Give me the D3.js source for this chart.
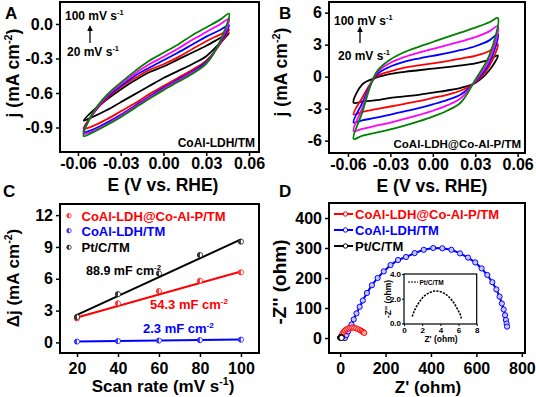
<!DOCTYPE html>
<html>
<head>
<meta charset="utf-8">
<script src="https://cdnjs.cloudflare.com/ajax/libs/d3/7.8.5/d3.min.js"></script>
<style>
  body { margin: 0; background: #fff; }
  svg text { font-family: "Liberation Sans", Arial, sans-serif; font-weight: bold; }
</style>
</head>
<body>
<div id="chart"></div>
<script>
// ---- data ----
// potential grid shared by the CV loops (V vs. RHE)
var potential = [-0.056, -0.05, -0.04, -0.03, -0.02, -0.01, 0, 0.01, 0.02, 0.03, 0.04, 0.046];
var scanRates = [20, 40, 60, 80, 100];

// A: CoAl-LDH/TM, rows = 20,40,60,80,100 mV/s
var ldhAnodic = [
  [-0.84, -0.76, -0.66, -0.57, -0.49, -0.42, -0.37, -0.31, -0.25, -0.19, -0.12, -0.08],
  [-0.91, -0.79, -0.65, -0.55, -0.47, -0.40, -0.35, -0.29, -0.22, -0.15, -0.09, -0.05],
  [-0.94, -0.79, -0.64, -0.54, -0.45, -0.38, -0.315, -0.25, -0.18, -0.11, -0.05, -0.01],
  [-0.955, -0.79, -0.63, -0.525, -0.43, -0.35, -0.285, -0.215, -0.14, -0.07, 0.0, 0.045],
  [-0.975, -0.78, -0.62, -0.51, -0.41, -0.32, -0.25, -0.18, -0.10, -0.03, 0.04, 0.09]
];
var ldhCathodic = [
  [-0.84, -0.81, -0.75, -0.68, -0.61, -0.54, -0.47, -0.41, -0.35, -0.28, -0.16, -0.08],
  [-0.91, -0.89, -0.83, -0.76, -0.69, -0.61, -0.54, -0.47, -0.40, -0.32, -0.17, -0.05],
  [-0.94, -0.92, -0.86, -0.79, -0.71, -0.63, -0.555, -0.485, -0.415, -0.33, -0.16, -0.01],
  [-0.955, -0.935, -0.875, -0.80, -0.72, -0.64, -0.565, -0.495, -0.425, -0.34, -0.15, 0.045],
  [-0.975, -0.945, -0.88, -0.81, -0.73, -0.65, -0.575, -0.505, -0.435, -0.345, -0.14, 0.09]
];

// B: CoAl-LDH@Co-Al-P/TM
var phosAnodic = [
  [-2.45, -0.75, -0.1, 0.25, 0.45, 0.6, 0.75, 0.9, 1.05, 1.25, 1.6, 2.0],
  [-3.55, -2.0, 0.0, 0.5, 0.85, 1.05, 1.25, 1.45, 1.7, 1.95, 2.4, 3.05],
  [-4.3, -2.5, 0.15, 0.95, 1.4, 1.7, 1.95, 2.2, 2.5, 2.85, 3.4, 4.0],
  [-5.1, -3.0, 0.3, 1.3, 1.85, 2.25, 2.6, 2.95, 3.3, 3.7, 4.25, 4.75],
  [-5.84, -3.4, 0.4, 1.6, 2.3, 2.8, 3.25, 3.7, 4.15, 4.6, 5.1, 5.5]
];
var phosCathodic = [
  [-2.45, -2.35, -2.2, -2.0, -1.85, -1.7, -1.5, -1.3, -1.05, -0.6, 0.6, 2.0],
  [-3.55, -3.3, -3.05, -2.8, -2.55, -2.3, -2.0, -1.7, -1.3, -0.55, 1.0, 3.05],
  [-4.3, -4.1, -3.85, -3.55, -3.25, -2.95, -2.6, -2.2, -1.65, -0.5, 1.3, 4.0],
  [-5.1, -4.9, -4.6, -4.3, -3.95, -3.6, -3.2, -2.7, -2.0, -0.4, 1.6, 4.75],
  [-5.84, -5.55, -5.25, -4.95, -4.6, -4.2, -3.75, -3.2, -2.4, -0.3, 2.0, 5.5]
];

// C: delta j vs scan rate
var seriesNames = ["CoAl-LDH@Co-Al-P/TM", "CoAl-LDH/TM", "Pt/C/TM"];
var deltaJPhos = [2.26, 3.68, 4.84, 5.81, 6.6];
var deltaJLdh = [0.08, 0.12, 0.17, 0.21, 0.26];
var deltaJPt = [2.4, 4.55, 6.5, 8.24, 9.5];
var cdlSlope = [0.0543, 0.0023, 0.0889];
var cdlIntercept = [1.26, 0.034, 0.82];
var cdlLabels = ["54.3", "2.3", "88.9"];

// D: Nyquist
var zRePhos = [3, 6, 10, 15, 21, 28, 36, 44, 53, 62, 71, 80, 88, 95, 101, 106];
var zImPhos = [1, 7, 14, 20, 25, 29, 32, 34, 35, 34, 32, 29, 26, 23, 20, 17];
var zReLdh = [21, 28, 35, 42, 50, 60, 72, 86, 100, 118, 140, 165, 192, 222, 255, 290, 328, 368, 410, 450, 490, 528, 563, 595, 623, 648, 670, 688, 702, 712, 720, 726, 730, 733, 735];
var zImLdh = [0, 10, 22, 33, 45, 62, 82, 104, 125, 150, 176, 200, 222, 243, 260, 270, 283, 294, 300, 299, 294, 282, 268, 252, 232, 210, 186, 162, 138, 115, 95, 76, 60, 48, 38];
var zRePt = [0.9, 1.1, 1.4, 1.8, 2.2, 2.7, 3.2, 3.6, 4.1, 4.6, 5.0, 5.4, 5.7, 6.0, 6.2, 6.3];
var zImPt = [0.55, 0.95, 1.4, 1.85, 2.2, 2.45, 2.6, 2.62, 2.55, 2.35, 2.1, 1.75, 1.4, 1.0, 0.7, 0.4];

// tick values / labels
var cvTicksX = [-0.06, -0.03, 0, 0.03, 0.06];
var cvTickLabelsX = ["-0.06", "-0.03", "0.00", "0.03", "0.06"];
var ldhTicksY = [0, -0.3, -0.6, -0.9];
var ldhTickLabelsY = ["0.0", "-0.3", "-0.6", "-0.9"];
var phosTicksY = [6, 3, 0, -3, -6];
var phosTickLabelsY = ["6", "3", "0", "-3", "-6"];
var rateTicks = [20, 40, 60, 80, 100];
var deltaTicks = [0, 3, 6, 9, 12];
var zReTicks = [0, 200, 400, 600, 800];
var zImTicks = [0, 100, 200, 300, 400];
var insetTicksX = [0, 2, 4, 6, 8];
var insetTicksY = [0, 2, 4];

var cvColors = ["#000000", "#ff0000", "#0000ff", "#ff00ff", "#008000"];
var seriesColors = ["#ff0000", "#0000ff", "#000000"];

var svg = d3.select("#chart").append("svg")
  .attr("width", 536)
  .attr("height", 397)
  .style("background", "#fff");

// ---- helpers ----
function richText(sel, parts, fs) {
  parts.forEach(function (p, i) {
    var t = sel.append("tspan").text(p[0]);
    if (p[1]) {
      t.attr("font-size", fs * 0.62).attr("dy", -fs * 0.42);
    } else if (i > 0 && parts[i - 1][1]) {
      t.attr("dy", fs * 0.42);
    }
  });
  return sel;
}

function styleAxis(g, fs) {
  g.attr("font-size", null).attr("font-family", null);
  g.select(".domain").remove();
  g.selectAll(".tick line").attr("stroke", "#000").attr("stroke-width", 1.5);
  g.selectAll(".tick text")
    .attr("fill", "#000")
    .attr("font-size", fs)
    .attr("font-weight", "bold");
}

function frame(x, y, sw) {
  var r = x.range(), s = y.range();
  svg.append("rect")
    .attr("x", r[0]).attr("y", s[1])
    .attr("width", r[1] - r[0]).attr("height", s[0] - s[1])
    .attr("fill", "none").attr("stroke", "#000").attr("stroke-width", sw || 2);
}

function axes(x, y, tx, ty, lx, ly, fs, padX) {
  var gx = svg.append("g")
    .attr("transform", "translate(0," + y.range()[0] + ")")
    .call(d3.axisBottom(x).tickValues(tx).tickSize(4).tickSizeOuter(0).tickPadding(padX)
      .tickFormat(function (d, i) { return lx ? lx[i] : d; }));
  styleAxis(gx, fs);
  var gy = svg.append("g")
    .attr("transform", "translate(" + x.range()[0] + ",0)")
    .call(d3.axisLeft(y).tickValues(ty).tickSize(4).tickSizeOuter(0).tickPadding(3)
      .tickFormat(function (d, i) { return ly ? ly[i] : d; }));
  styleAxis(gy, fs);
}

function drawLoops(anodic, cathodic, x, y) {
  var line = d3.line()
    .x(function (d) { return x(d[0]); })
    .y(function (d) { return y(d[1]); })
    .curve(d3.curveCatmullRomClosed.alpha(0.5));
  anodic.forEach(function (up, k) {
    var down = cathodic[k];
    var pts = up.map(function (j, i) { return [potential[i], j]; });
    for (var i = down.length - 2; i >= 1; i--) pts.push([potential[i], down[i]]);
    svg.append("path")
      .attr("d", line(pts))
      .attr("fill", "none")
      .attr("stroke", cvColors[k])
      .attr("stroke-width", 1.8);
  });
}

function yTitle(cx, cy, parts, fs) {
  var t = svg.append("text")
    .attr("transform", "translate(" + cx + "," + cy + ") rotate(-90)")
    .attr("text-anchor", "middle")
    .attr("font-size", fs);
  richText(t, parts, fs);
}

function xTitle(cx, by, parts, fs) {
  var t = svg.append("text")
    .attr("x", cx).attr("y", by)
    .attr("text-anchor", "middle")
    .attr("font-size", fs);
  richText(t, parts, fs);
}

function label(x, y, parts, fs, color, anchor) {
  var t = svg.append("text")
    .attr("x", x).attr("y", y)
    .attr("font-size", fs)
    .attr("fill", color || "#000")
    .attr("text-anchor", anchor || "start");
  richText(t, parts, fs);
}

function arrowUp(x, y0, y1) {
  svg.append("line").attr("x1", x).attr("x2", x).attr("y1", y0).attr("y2", y1 + 5)
    .attr("stroke", "#000").attr("stroke-width", 1.3);
  svg.append("path")
    .attr("d", "M" + (x - 2.8) + "," + (y1 + 6) + "L" + x + "," + y1 + "L" + (x + 2.8) + "," + (y1 + 6) + "Z")
    .attr("fill", "#000");
}

function halfMarker(g, cx, cy, r, color) {
  g.append("circle").attr("cx", cx).attr("cy", cy).attr("r", r)
    .attr("fill", "#fff").attr("stroke", color).attr("stroke-width", 1).attr("stroke-opacity", 0.7);
  g.append("path")
    .attr("d", "M" + cx + "," + (cy - r) + "A" + r + "," + r + " 0 0 0 " + cx + "," + (cy + r) + "Z")
    .attr("fill", color).attr("fill-opacity", 0.75);
}

// ---- panel A ----
var xA = d3.scaleLinear().domain([-0.0726, 0.067]).range([60, 259]);
var yA = d3.scaleLinear().domain([-1.113, 0.191]).range([152, 2]);
drawLoops(ldhAnodic, ldhCathodic, xA, yA);
frame(xA, yA);
axes(xA, yA, cvTicksX, ldhTicksY, cvTickLabelsX, ldhTickLabelsY, 16, 2);
yTitle(19, 73, [["j (mA cm"], ["-2", true], [")"]], 17.5);
xTitle(163, 191, [["E (V vs. RHE)"]], 17.5);
label(5, 19, [["A"]], 17);
label(65, 20, [["100 mV s"], ["-1", true]], 12);
label(67, 56, [["20 mV s"], ["-1", true]], 12);
arrowUp(90, 43, 25);
label(255, 147, [["CoAl-LDH/TM"]], 12, "#000", "end");

// ---- panel B ----
var xB = d3.scaleLinear().domain([-0.0734, 0.0652]).range([329, 525]);
var yB = d3.scaleLinear().domain([-7.16, 7.0]).range([153, 2]);
drawLoops(phosAnodic, phosCathodic, xB, yB);
frame(xB, yB);
axes(xB, yB, cvTicksX, phosTicksY, cvTickLabelsX, phosTickLabelsY, 16, 2);
yTitle(287, 72, [["j (mA cm"], ["-2", true], [")"]], 17.5);
xTitle(432, 192, [["E (V vs. RHE)"]], 17.5);
label(279, 19, [["B"]], 17);
label(334, 25, [["100 mV s"], ["-1", true]], 12);
label(338, 60, [["20 mV s"], ["-1", true]], 12);
arrowUp(360, 43, 26);
label(521, 148, [["CoAl-LDH@Co-Al-P/TM"]], 11.5, "#000", "end");

// ---- panel C ----
var xC = d3.scaleLinear().domain([11.7, 108.8]).range([60, 259]);
var yC = d3.scaleLinear().domain([-1.0, 13.05]).range([353, 204]);
var deltaSeries = [deltaJPhos, deltaJLdh, deltaJPt];
deltaSeries.forEach(function (vals, k) {
  svg.append("line")
    .attr("x1", xC(scanRates[0])).attr("x2", xC(scanRates[4]))
    .attr("y1", yC(cdlIntercept[k] + cdlSlope[k] * scanRates[0]))
    .attr("y2", yC(cdlIntercept[k] + cdlSlope[k] * scanRates[4]))
    .attr("stroke", seriesColors[k]).attr("stroke-width", 2);
  var g = svg.append("g");
  vals.forEach(function (v, i) {
    halfMarker(g, xC(scanRates[i]), yC(v), 2.6, seriesColors[k]);
  });
});
frame(xC, yC);
axes(xC, yC, rateTicks, deltaTicks, null, null, 16, 6);
yTitle(19, 278, [["\u0394j (mA cm"], ["-2", true], [")"]], 17);
xTitle(163, 392, [["Scan rate (mV s"], ["-1", true], [")"]], 17);
label(3, 197, [["C"]], 17);
seriesNames.forEach(function (name, k) {
  var cy = [215.7, 230.7, 247.3][k];
  halfMarker(svg.append("g"), 69, cy, 2.2, seriesColors[k]);
  label(81.5, cy + 4.8, [[name]], 13, k === 2 ? "#000" : seriesColors[k]);
});
label(86, 275, [[cdlLabels[2] + " mF cm"], ["-2", true]], 12.5, "#000");
label(150, 309, [[cdlLabels[0] + " mF cm"], ["-2", true]], 13, "#ff0000");
label(143, 333, [[cdlLabels[1] + " mF cm"], ["-2", true]], 13, "#0000ff");

// ---- panel D ----
var xD = d3.scaleLinear().domain([-49, 814]).range([329, 525]);
var yD = d3.scaleLinear().domain([-50, 450]).range([353, 203]);
var nyLine = d3.line()
  .x(function (d) { return xD(d[0]); })
  .y(function (d) { return yD(d[1]); });

function nyquist(re, im, color, fillColor, sx, sy, lineFn, r) {
  var pts = re.map(function (v, i) { return [v, im[i]]; });
  svg.append("path").attr("d", lineFn(pts))
    .attr("fill", "none").attr("stroke", color).attr("stroke-width", 2);
  svg.append("g").selectAll("circle").data(pts).enter().append("circle")
    .attr("cx", function (d) { return sx(d[0]); })
    .attr("cy", function (d) { return sy(d[1]); })
    .attr("r", r)
    .attr("fill", fillColor).attr("stroke", color).attr("stroke-width", 1);
}

nyquist(zReLdh, zImLdh, "#0000ff", "#c8c8ff", xD, yD, nyLine, 2.6);
nyquist(zRePhos, zImPhos, "#ff0000", "#ffb0b0", xD, yD, nyLine, 2.6);
nyquist(zRePt, zImPt, "#000000", "#ffffff", xD, yD, nyLine, 2.6);
frame(xD, yD);
axes(xD, yD, zReTicks, zImTicks, null, null, 16, 6);
yTitle(286, 282, [["-Z'' (ohm)"]], 19);
xTitle(428, 393, [["Z' (ohm)"]], 17);
label(279, 197, [["D"]], 17);
seriesNames.forEach(function (name, k) {
  var cy = [214, 230, 246][k];
  svg.append("line").attr("x1", 334).attr("x2", 353).attr("y1", cy).attr("y2", cy)
    .attr("stroke", seriesColors[k]).attr("stroke-width", 2);
  svg.append("circle").attr("cx", 345.5).attr("cy", cy).attr("r", 2.2)
    .attr("fill", "#fff").attr("stroke", seriesColors[k]).attr("stroke-width", 1);
  label(355, cy + 4.8, [[name]], 13, seriesColors[k]);
});

// inset: Pt/C/TM close-up
var xI = d3.scaleLinear().domain([0, 8]).range([404, 476.7]);
var yI = d3.scaleLinear().domain([-0.05, 4]).range([324, 274]);
svg.append("rect").attr("x", 404).attr("y", 274).attr("width", 72.7).attr("height", 50)
  .attr("fill", "#fff");
var inLine = d3.line()
  .x(function (d) { return xI(d[0]); })
  .y(function (d) { return yI(d[1]); })
  .curve(d3.curveCatmullRom);
svg.append("path")
  .attr("d", inLine(zRePt.map(function (v, i) { return [v, zImPt[i]]; })))
  .attr("fill", "none").attr("stroke", "#000").attr("stroke-width", 1.6)
  .attr("stroke-dasharray", "2.2,1.2");
frame(xI, yI, 1.2);
var gix = svg.append("g").attr("transform", "translate(0,324)")
  .call(d3.axisBottom(xI).tickValues(insetTicksX).tickSize(2).tickSizeOuter(0).tickPadding(1));
styleAxis(gix, 8);
gix.selectAll(".tick line").attr("stroke-width", 1);
var giy = svg.append("g").attr("transform", "translate(404,0)")
  .call(d3.axisLeft(yI).tickValues(insetTicksY).tickSize(2).tickSizeOuter(0).tickPadding(1));
styleAxis(giy, 8);
giy.selectAll(".tick line").attr("stroke-width", 1);
yTitle(391, 299, [["-Z'' (ohm)"]], 8.5);
xTitle(441, 342, [["Z' (ohm)"]], 8.5);
svg.append("line").attr("x1", 408).attr("x2", 418).attr("y1", 282).attr("y2", 282)
  .attr("stroke", "#000").attr("stroke-width", 1).attr("stroke-dasharray", "2,1");
label(419.5, 284.5, [["Pt/C/TM"]], 6.5);
</script>
</body>
</html>
